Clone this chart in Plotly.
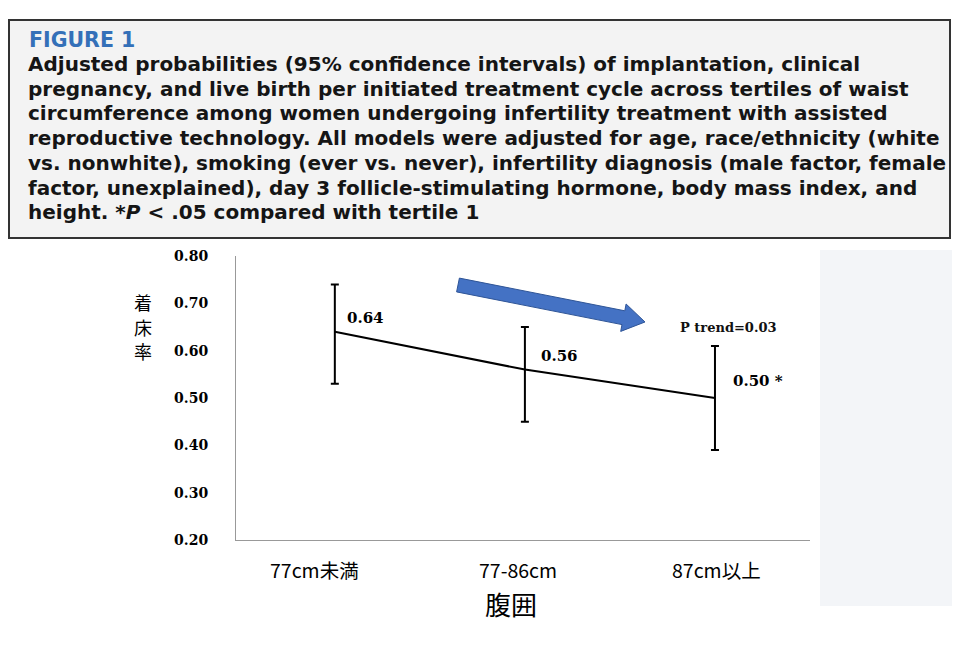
import plotly.graph_objects as go

# ---- data ----
categories = ["77cm未満", "77-86cm", "87cm以上"]
probability = [0.64, 0.56, 0.50]
ci_upper = [0.74, 0.65, 0.61]
ci_lower = [0.53, 0.45, 0.39]
value_labels = ["0.64", "0.56", "0.50 *"]
y_ticks = [0.20, 0.30, 0.40, 0.50, 0.60, 0.70, 0.80]
trend_text = "P trend=0.03"
x_title = "腹囲"
y_title_chars = ["着", "床", "率"]

caption_title = "FIGURE 1"
caption_lines = [
    "Adjusted probabilities (95% confidence intervals) of implantation, clinical",
    "pregnancy, and live birth per initiated treatment cycle across tertiles of waist",
    "circumference among women undergoing infertility treatment with assisted",
    "reproductive technology. All models were adjusted for age, race/ethnicity (white",
    "vs. nonwhite), smoking (ever vs. never), infertility diagnosis (male factor, female",
    "factor, unexplained), day 3 follicle-stimulating hormone, body mass index, and",
    "height. *<i>P</i> &lt; .05 compared with tertile 1",
]

O = 8  # browser body margin
W, H = 960 - O, 649 - 3 * O
ML, MT = 236 - O, 256 - O
MR = W - (810 - O)
MB = H - (540 - O)
PW, PH = W - ML - MR, H - MT - MB


def px(x):
    return (x - O - ML) / PW


def py(y):
    return (H - MB - (y - O)) / PH


xs = list(range(len(categories)))
err_plus = [u - p for u, p in zip(ci_upper, probability)]
err_minus = [p - l for p, l in zip(probability, ci_lower)]

fig = go.Figure()
fig.add_trace(go.Scatter(
    x=xs, y=probability, mode="lines",
    line=dict(color="black", width=2),
    error_y=dict(type="data", array=err_plus, arrayminus=err_minus,
                 color="black", thickness=2, width=4),
    showlegend=False, hoverinfo="skip",
))

serif = "DejaVu Serif"
cjk = "Noto Sans CJK JP"
shifts = [(10, 14), (14, 14), (16, 17)]
annotations = []
for i, (lab, v) in enumerate(zip(value_labels, probability)):
    annotations.append(dict(
        x=i, y=v, xref="x", yref="y", text=lab, showarrow=False,
        xanchor="left", yanchor="middle", xshift=shifts[i][0], yshift=shifts[i][1],
        font=dict(family=serif, size=15, color="black", weight="bold"),
    ))
annotations.append(dict(
    x=2.07, y=0.648, xref="x", yref="y", text=trend_text, showarrow=False,
    xanchor="center", yanchor="middle",
    font=dict(family=serif, size=13, color="#111", weight="bold"),
))
# category labels under the axis
label_shift = [-20, -7, 2]
for i, cat in enumerate(categories):
    annotations.append(dict(
        x=i, y=py(569), xref="x", yref="paper", text=cat, showarrow=False,
        xanchor="center", yanchor="middle", xshift=label_shift[i],
        font=dict(family=cjk, size=19.5, color="black"),
    ))
annotations.append(dict(
    x=px(511), y=py(603), xref="paper", yref="paper", text=x_title, showarrow=False,
    xanchor="center", yanchor="middle",
    font=dict(family=cjk, size=26, color="black"),
))
# y-axis title (vertical stacked characters)
for k, ch in enumerate(y_title_chars):
    annotations.append(dict(
        x=px(143), y=py(302 + 24.5 * k), xref="paper", yref="paper", text=ch,
        showarrow=False, xanchor="center", yanchor="middle",
        font=dict(family=cjk, size=18, color="black"),
    ))
# caption
annotations.append(dict(
    x=px(27), y=py(40), xref="paper", yref="paper", text=caption_title,
    showarrow=False, xanchor="left", yanchor="middle",
    font=dict(family="DejaVu Sans", size=20.5, color="#3470b8", weight="bold"),
))
for k, line in enumerate(caption_lines):
    annotations.append(dict(
        x=px(26), y=py(64 + 24.7 * k), xref="paper", yref="paper", text=line,
        showarrow=False, xanchor="left", yanchor="middle",
        font=dict(family="DejaVu Sans", size=20, color="#151515", weight="bold"),
    ))

# blue arrow polygon (reference pixel coords -> paper)
arrow_pts = [(459.4, 278.1), (624.8, 310.8), (626.1, 304.0), (645, 322),
             (620.7, 331.4), (622.0, 324.6), (456.6, 291.9)]
path = "M " + " L ".join(f"{px(a):.5f},{py(b):.5f}" for a, b in arrow_pts) + " Z"

shapes = [
    dict(type="rect", xref="paper", yref="paper", x0=px(820), x1=px(962), y0=py(250), y1=py(606),
         fillcolor="#f3f5f8", line=dict(width=0), layer="below"),
    dict(type="rect", xref="paper", yref="paper", x0=px(9), x1=px(950), y0=py(20), y1=py(238),
         fillcolor="#f3f3f3", line=dict(color="#333", width=2), layer="below"),
    dict(type="path", xref="paper", yref="paper", path=path,
         fillcolor="#4472c4", line=dict(color="#2f5597", width=1)),
]

fig.update_layout(
    width=W, height=H,
    margin=dict(l=ML, r=MR, t=MT, b=MB),
    paper_bgcolor="white", plot_bgcolor="white",
    annotations=annotations, shapes=shapes,
    xaxis=dict(
        range=[-0.52, 2.5], tickvals=xs, showticklabels=False,
        showline=True, linecolor="#999", linewidth=1, showgrid=False, zeroline=False,
        ticks="",
    ),
    yaxis=dict(
        range=[0.2, 0.8], tickvals=y_ticks, tickformat=".2f",
        showline=True, linecolor="#999", linewidth=1, showgrid=False, zeroline=False,
        ticks="", ticklabelstandoff=24,
        tickfont=dict(family=serif, size=14, color="black", weight="bold"),
    ),
)

fig.write_html("out.html")
